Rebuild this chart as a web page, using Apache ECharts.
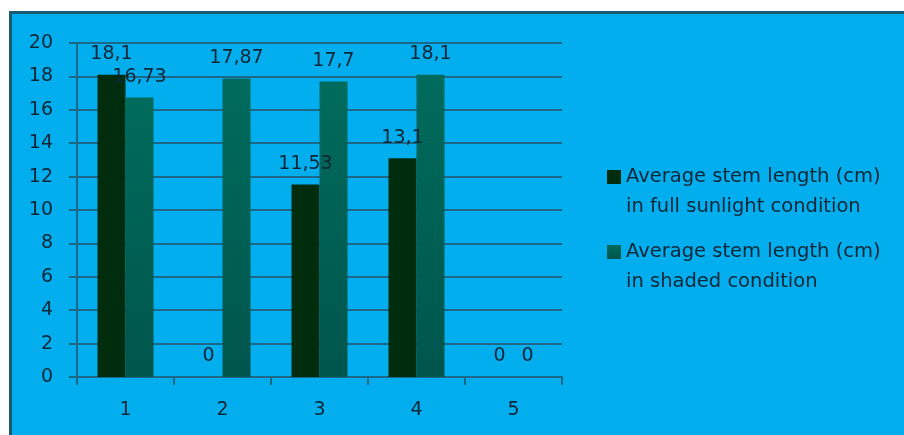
<!DOCTYPE html>
<html>
<head>
<meta charset="utf-8">
<script src="https://cdn.jsdelivr.net/npm/echarts@6/dist/echarts.min.js"></script>
<style>
html,body{margin:0;padding:0;background:#ffffff;}
#chart{width:904px;height:435px;}
</style>
</head>
<body>
<div id="chart"></div>
<script>
var categories = ['1', '2', '3', '4', '5'];
var seriesNames = ['Average stem length (cm)\nin full sunlight condition', 'Average stem length (cm)\nin shaded condition'];
var sunValues = [18.1, 0, 11.53, 13.1, 0];
var shadeValues = [16.73, 17.87, 17.7, 18.1, 0];
var yTicks = {min: 0, max: 20, interval: 2};

var textColor = '#0c2635';
var fontFam = 'DejaVu Sans';
var lineColor = '#1b6888';

function fmt(p) { return String(p.value).replace('.', ','); }

var chart = echarts.init(document.getElementById('chart'), null, {renderer: 'canvas'});
chart.setOption({
  backgroundColor: '#ffffff',
  animation: false,
  graphic: [{
    type: 'rect',
    z: -100,
    silent: true,
    shape: {x: 10.5, y: 12.5, width: 900, height: 430},
    style: {fill: '#02aeee', stroke: '#1c5a73', lineWidth: 3}
  }],
  grid: {left: 77, right: 342, top: 43, bottom: 58, containLabel: false},
  legend: {
    orient: 'vertical',
    left: 607,
    top: 132,
    padding: 0,
    itemGap: -15,
    itemWidth: 14,
    itemHeight: 14,
    icon: 'rect',
    formatter: function (name) { return '\n' + name; },
    textStyle: {color: textColor, fontFamily: fontFam, fontSize: 19.5, lineHeight: 30},
    data: seriesNames
  },
  xAxis: {
    type: 'category',
    data: categories,
    axisLine: {lineStyle: {color: lineColor, width: 2}},
    axisTick: {show: true, length: 8, lineStyle: {color: lineColor, width: 2}},
    axisLabel: {color: textColor, fontFamily: fontFam, fontSize: 19, margin: 24}
  },
  yAxis: {
    type: 'value',
    min: yTicks.min, max: yTicks.max, interval: yTicks.interval,
    axisLine: {show: true, lineStyle: {color: lineColor, width: 2}},
    axisTick: {show: true, length: 8, lineStyle: {color: lineColor, width: 2}},
    axisLabel: {color: textColor, fontFamily: fontFam, fontSize: 19, margin: 24},
    splitLine: {lineStyle: {color: lineColor, width: 2}}
  },
  series: [{
    name: seriesNames[0],
    type: 'bar',
    data: sunValues,
    barWidth: 28,
    barGap: '0%',
    itemStyle: {color: '#002d0e'},
    label: {show: true, position: 'top', distance: 11, formatter: fmt, color: textColor, fontFamily: fontFam, fontSize: 19}
  }, {
    name: seriesNames[1],
    type: 'bar',
    data: shadeValues,
    barWidth: 28,
    barGap: '0%',
    itemStyle: {color: new echarts.graphic.LinearGradient(0, 0, 0, 1, [{offset: 0, color: '#006b5c'}, {offset: 1, color: '#00554c'}], false)},
    label: {show: true, position: 'top', distance: 11, formatter: fmt, color: textColor, fontFamily: fontFam, fontSize: 19}
  }]
});
</script>
</body>
</html>
